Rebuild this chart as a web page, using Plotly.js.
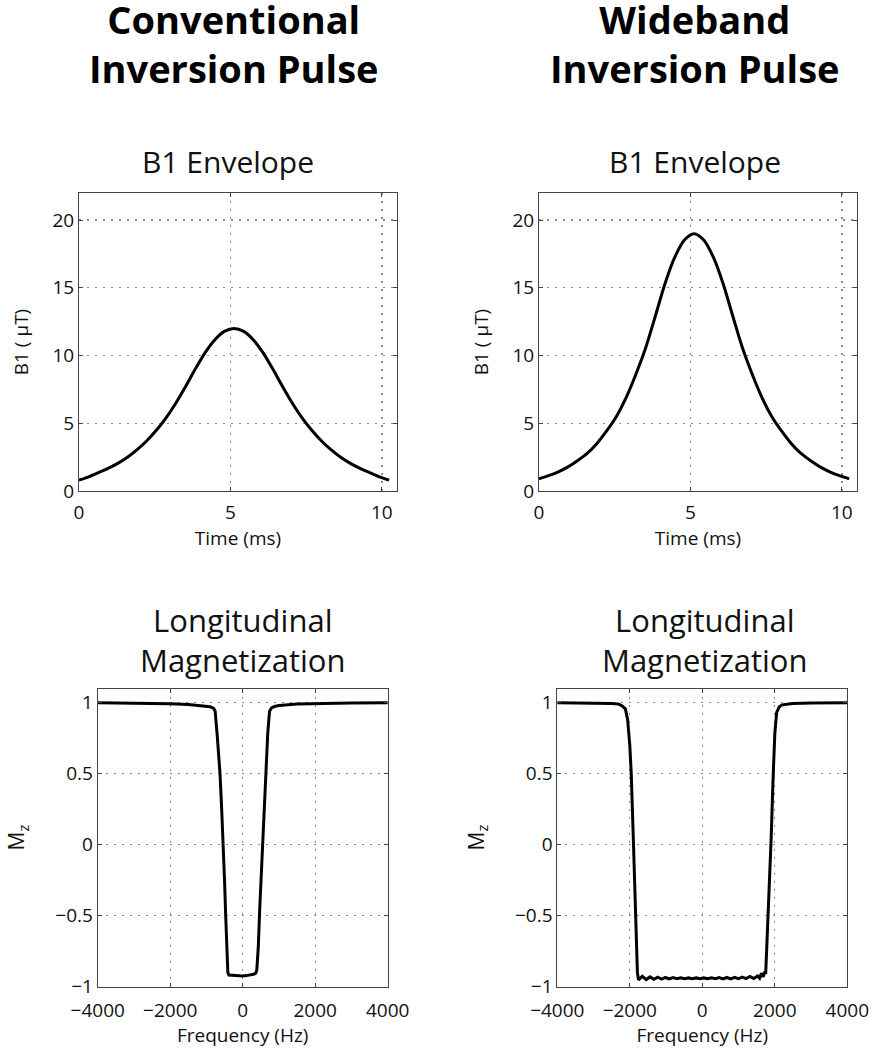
<!DOCTYPE html>
<html>
<head>
<meta charset="utf-8">
<script src="https://cdn.plot.ly/plotly-3.0.1.min.js"></script>
<style>html,body{margin:0;padding:0;background:#fff;}#chart{width:874px;height:1050px;}</style>
</head>
<body>
<div id="chart"></div>
<script>
// ---- Data ----
const convTime = [0,0.32,0.64,0.96,1.28,1.60,1.92,2.24,2.56,2.88,3.20,3.52,3.84,4.16,4.48,4.80,5.12,5.44,5.76,6.08,6.40,6.72,7.04,7.36,7.68,8.00,8.32,8.64,8.96,9.28,9.60,9.92,10.24];
const convB1   = [0.80,1.05,1.36,1.67,2.04,2.49,3.05,3.71,4.50,5.42,6.50,7.72,9.00,10.2,11.15,11.78,12.0,11.78,11.15,10.2,9.00,7.72,6.50,5.42,4.50,3.71,3.05,2.49,2.04,1.67,1.36,1.05,0.80];

const wideTime = [0,0.32,0.64,0.96,1.28,1.60,1.92,2.24,2.56,2.88,3.20,3.52,3.84,4.16,4.48,4.80,5.12,5.44,5.76,6.08,6.40,6.72,7.04,7.36,7.68,8.00,8.32,8.64,8.96,9.28,9.60,9.92,10.24];
const wideB1   = [0.90,1.13,1.42,1.78,2.25,2.79,3.53,4.45,5.52,6.91,8.62,10.55,12.9,15.3,17.24,18.53,19.0,18.53,17.24,15.3,12.9,10.55,8.62,6.91,5.52,4.45,3.53,2.79,2.25,1.78,1.42,1.13,0.90];

const convFreq = [-4000,-3000,-2000,-1500,-1000,-900,-800,-760,-700,-626,-580,-535,-500,-469,-440,-410,-380,-300,-200,-100,0,100,200,300,360,390,410,430,470,500,541,590,634,690,740,800,900,1000,1500,2000,3000,4000];
const convMz   = [1.0,0.998,0.993,0.988,0.978,0.972,0.96,0.94,0.76,0.5,0.25,0.0,-0.26,-0.5,-0.72,-0.9,-0.918,-0.92,-0.922,-0.924,-0.924,-0.922,-0.918,-0.912,-0.905,-0.88,-0.8,-0.72,-0.45,-0.28,0.0,0.28,0.5,0.78,0.94,0.965,0.975,0.98,0.99,0.994,0.998,1.0];

const wideFreq = [-4000,-3000,-2500,-2300,-2200,-2120,-2060,-2000,-1960,-1910,-1870,-1830,-1790,-1760,-1654,-1548,-1442,-1336,-1230,-1124,-1018,-912,-806,-700,-594,-488,-382,-276,-170,-64,42,148,254,360,466,572,678,784,890,996,1102,1208,1314,1420,1526,1580,1630,1680,1720,1750,1800,1850,1900,1950,2000,2050,2120,2200,2300,2500,3000,4000];
const wideMz   = [1.0,0.998,0.995,0.99,0.975,0.955,0.88,0.7,0.5,0.1,-0.3,-0.65,-0.9,-0.952,-0.927,-0.95,-0.931,-0.948,-0.933,-0.946,-0.935,-0.945,-0.936,-0.944,-0.937,-0.943,-0.938,-0.943,-0.938,-0.943,-0.938,-0.943,-0.937,-0.944,-0.936,-0.945,-0.935,-0.945,-0.934,-0.944,-0.932,-0.943,-0.928,-0.942,-0.925,-0.94,-0.905,-0.93,-0.9,-0.9,-0.6,-0.3,0.05,0.45,0.78,0.93,0.97,0.985,0.99,0.995,0.998,1.0];

const b1Ticks = [0,5,10,15,20];
const timeTicks = [0,5,10];
const freqTicks = [-4000,-2000,0,2000,4000];
const mzTicks = [-1,-0.5,0,0.5,1];
const mzTickText = ['\u22121','\u22120.5','0','0.5','1'];
const freqTickText = ['\u22124000','\u22122000','0','2000','4000'];

// ---- Layout helpers ----
const W = 874, H = 1050;
const px = v => v / W;
const py = v => 1 - v / H;

const lineStyle = {color:'#000', width:3};
const traces = [
  {x:convTime, y:convB1, type:'scatter', mode:'lines', line:Object.assign({shape:'spline', smoothing:0.8}, lineStyle), xaxis:'x', yaxis:'y', hoverinfo:'skip'},
  {x:wideTime, y:wideB1, type:'scatter', mode:'lines', line:Object.assign({shape:'spline', smoothing:0.8}, lineStyle), xaxis:'x2', yaxis:'y2', hoverinfo:'skip'},
  {x:convFreq, y:convMz, type:'scatter', mode:'lines', line:lineStyle, xaxis:'x3', yaxis:'y3', hoverinfo:'skip'},
  {x:wideFreq, y:wideMz, type:'scatter', mode:'lines', line:lineStyle, xaxis:'x4', yaxis:'y4', hoverinfo:'skip'}
];

const tickFont = {family:'Open Sans', size:19, color:'#111'};
const titleFont = {family:'Open Sans', size:19, color:'#111'};
function axis(extra){
  return Object.assign({
    showline:true, linecolor:'#444', linewidth:1, mirror:'ticks',
    ticks:'inside', ticklen:4, tickcolor:'#444', tickwidth:1,
    showgrid:true, gridcolor:'#8a8a8a', gridwidth:1.3, griddash:'2px,6px',
    zeroline:false, tickfont:tickFont, fixedrange:true
  }, extra);
}

const topY = [py(491), py(193)];
const botY = [py(986.7), py(688.5)];

const layout = {
  width:W, height:H,
  margin:{l:0, r:0, t:0, b:0, pad:0},
  paper_bgcolor:'#fff', plot_bgcolor:'#fff',
  showlegend:false,
  font:{family:'Open Sans', color:'#111'},
  xaxis: axis({domain:[px(79), px(397)], anchor:'y', range:[0,10.5], tickvals:timeTicks, ticklabelstandoff:4,
    title:{text:'Time (ms)', font:titleFont, standoff:3}}),
  yaxis: axis({domain:topY, anchor:'x', range:[0,22], tickvals:b1Ticks,
    title:{text:'B1 ( \u03bcT)', font:titleFont, standoff:18}}),
  xaxis2: axis({domain:[px(539), px(857)], anchor:'y2', range:[0,10.5], tickvals:timeTicks, ticklabelstandoff:4,
    title:{text:'Time (ms)', font:titleFont, standoff:3}}),
  yaxis2: axis({domain:topY, anchor:'x2', range:[0,22], tickvals:b1Ticks,
    title:{text:'B1 ( \u03bcT)', font:titleFont, standoff:18}}),
  xaxis3: axis({domain:[px(97.7), px(387.7)], anchor:'y3', range:[-4000,4000], tickvals:freqTicks, ticktext:freqTickText, ticklabelstandoff:6,
    title:{text:'Frequency (Hz)', font:titleFont, standoff:4}}),
  yaxis3: axis({domain:botY, anchor:'x3', range:[-1,1.1], tickvals:mzTicks, ticktext:mzTickText,
    title:{text:'M<sub>z</sub>', font:{family:'Open Sans', size:21, color:'#111'}, standoff:24}}),
  xaxis4: axis({domain:[px(557.3), px(847.3)], anchor:'y4', range:[-4000,4000], tickvals:freqTicks, ticktext:freqTickText, ticklabelstandoff:6,
    title:{text:'Frequency (Hz)', font:titleFont, standoff:4}}),
  yaxis4: axis({domain:botY, anchor:'x4', range:[-1,1.1], tickvals:mzTicks, ticktext:mzTickText,
    title:{text:'M<sub>z</sub>', font:{family:'Open Sans', size:21, color:'#111'}, standoff:24}}),
  annotations:[
    {text:'Conventional<br>Inversion Pulse', x:px(234), y:py(44), xref:'paper', yref:'paper', xanchor:'center', yanchor:'middle', showarrow:false,
     font:{family:'Open Sans', size:38, weight:700, color:'#000'}},
    {text:'Wideband<br>Inversion Pulse', x:px(695), y:py(44), xref:'paper', yref:'paper', xanchor:'center', yanchor:'middle', showarrow:false,
     font:{family:'Open Sans', size:38, weight:700, color:'#000'}},
    {text:'B1 Envelope', x:px(228), y:py(162), xref:'paper', yref:'paper', xanchor:'center', yanchor:'middle', showarrow:false,
     font:{family:'Open Sans', size:30, color:'#111'}},
    {text:'B1 Envelope', x:px(695), y:py(162), xref:'paper', yref:'paper', xanchor:'center', yanchor:'middle', showarrow:false,
     font:{family:'Open Sans', size:30, color:'#111'}},
    {text:'Longitudinal<br>Magnetization', x:px(243), y:py(640), xref:'paper', yref:'paper', xanchor:'center', yanchor:'middle', showarrow:false,
     font:{family:'Open Sans', size:31, color:'#111'}},
    {text:'Longitudinal<br>Magnetization', x:px(705), y:py(640), xref:'paper', yref:'paper', xanchor:'center', yanchor:'middle', showarrow:false,
     font:{family:'Open Sans', size:31, color:'#111'}}
  ]
};

Plotly.newPlot('chart', traces, layout, {staticPlot:true, displayModeBar:false});
</script>
</body>
</html>
